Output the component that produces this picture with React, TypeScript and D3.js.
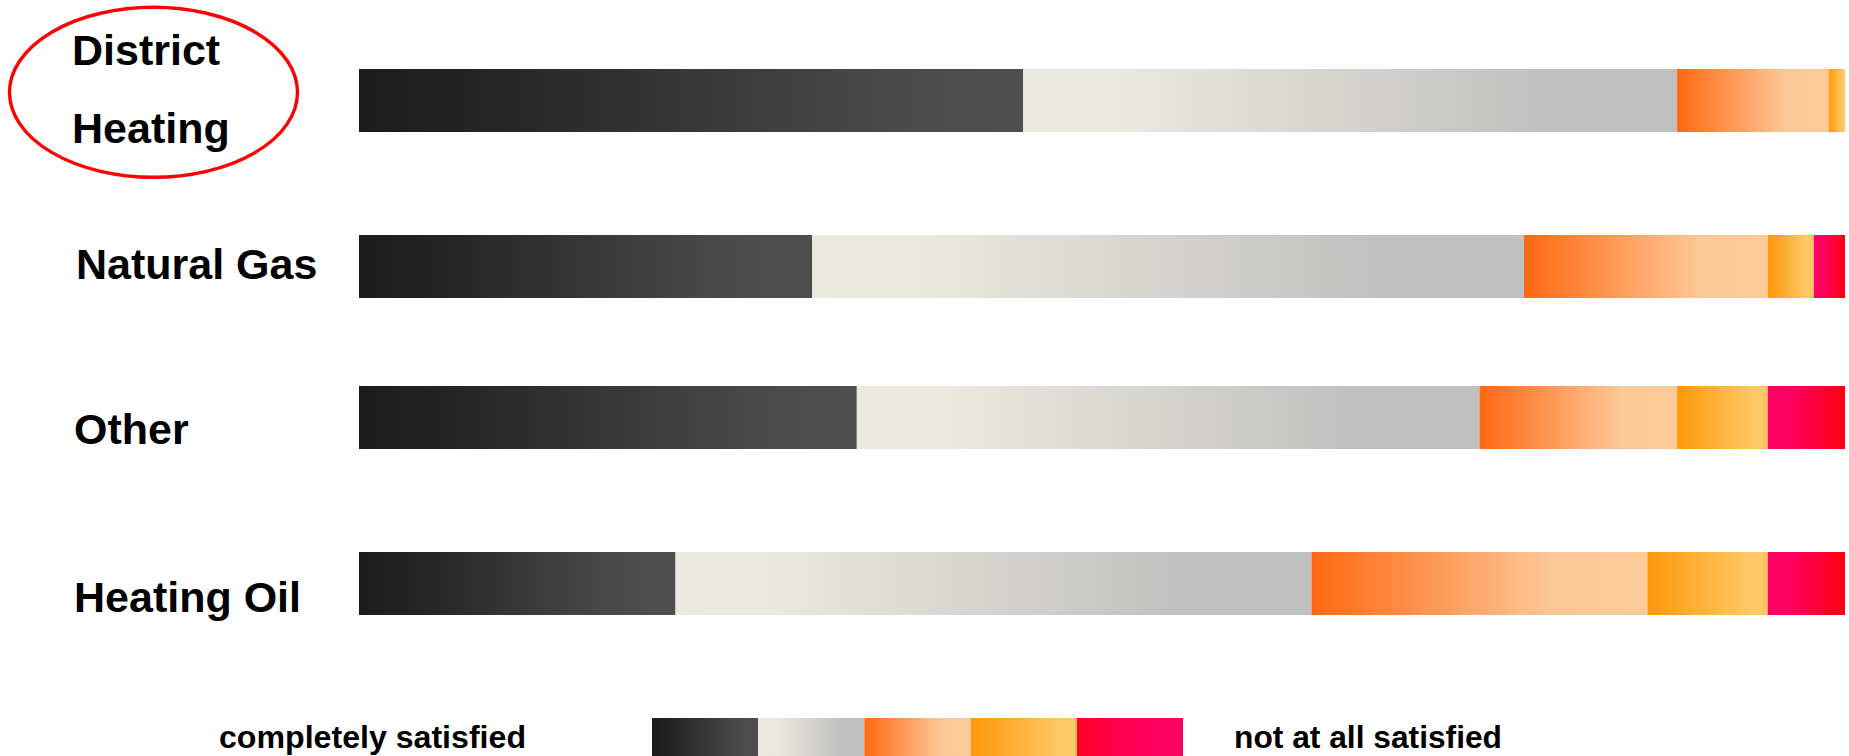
import React, { useEffect } from "react";
import * as d3 from "d3";

// ---- data ----
const categories = ["District Heating", "Natural Gas", "Other", "Heating Oil"];
const levels = ["completely satisfied", "rather satisfied", "neutral", "rather unsatisfied", "not at all satisfied"];
const completelySatisfied = [44.7, 30.5, 33.5, 21.3];
const ratherSatisfied = [44.0, 47.9, 41.9, 42.8];
const neutral = [10.2, 16.4, 13.3, 22.6];
const ratherUnsatisfied = [1.1, 3.1, 6.1, 8.1];
const notAtAllSatisfied = [0.0, 2.1, 5.2, 5.2];
const legendLeftLabel = "completely satisfied";
const legendRightLabel = "not at all satisfied";

// ---- layout / style (not data) ----
const W = 1849;
const H = 756;
const rowCenters = [100.5, 266.5, 417.5, 583.5];
const barH = 63;
const labelLines: Record<string, { x: number; baselines: number[]; lines: string[] }> = {
  "District Heating": { x: 72, baselines: [65, 143], lines: ["District", "Heating"] },
  "Natural Gas": { x: 76, baselines: [279], lines: ["Natural Gas"] },
  Other: { x: 74, baselines: [444], lines: ["Other"] },
  "Heating Oil": { x: 74, baselines: [612], lines: ["Heating Oil"] },
};

type Stop = [number, string];
const segGradients: Stop[][] = [
  [[0, "#1c1c1c"], [0.15, "#222222"], [0.85, "#4c4c4c"], [1, "#4e4e4e"]],
  [[0, "#ece9df"], [0.15, "#ebe8de"], [0.8, "#c0c0c0"], [1, "#c0c0c0"]],
  [[0, "#ff6812"], [0.72, "#fdc898"], [1, "#fdca9a"]],
  [[0, "#ff980a"], [0.85, "#fec865"], [1, "#fec866"]],
  [[0, "#ff0066"], [0.3, "#ff0060"], [1, "#ff0010"]],
];
const legendGradients: Stop[][] = [
  segGradients[0],
  segGradients[1],
  segGradients[2],
  segGradients[3],
  [[0, "#ff0022"], [0.4, "#ff0050"], [1, "#ff0066"]],
];

export default function App() {
  useEffect(() => {
    document.body.style.margin = "0";
    document.body.style.overflow = "hidden";
  }, []);

  const series = [completelySatisfied, ratherSatisfied, neutral, ratherUnsatisfied, notAtAllSatisfied];
  const table = categories.map((c, i) => {
    const row: any = { category: c };
    levels.forEach((l, k) => (row[l] = series[k][i]));
    return row;
  });
  const stacked = d3.stack<any>().keys(levels)(table);

  const x = d3.scaleLinear().domain([0, 100]).range([359, 1845]);
  const y = (c: string) => rowCenters[categories.indexOf(c)];

  const legendX = d3.scaleBand<string>().domain(levels).range([652, 1183]).padding(0);
  const legendY = 718;

  const fontBold = "'Liberation Sans', Arial, sans-serif";

  return (
    <svg width={W} height={H} style={{ display: "block", position: "absolute", left: 0, top: 0 }}>
      <defs>
        {segGradients.map((stops, k) => (
          <linearGradient key={"g" + k} id={"seg" + k} x1="0" x2="1" y1="0" y2="0">
            {stops.map(([o, c], j) => (
              <stop key={j} offset={o} stopColor={c} />
            ))}
          </linearGradient>
        ))}
        {legendGradients.map((stops, k) => (
          <linearGradient key={"l" + k} id={"leg" + k} x1="0" x2="1" y1="0" y2="0">
            {stops.map(([o, c], j) => (
              <stop key={j} offset={o} stopColor={c} />
            ))}
          </linearGradient>
        ))}
      </defs>
      <rect width={W} height={H} fill="#ffffff" />

      {stacked.map((layer, k) =>
        layer.map((d, i) => {
          const w = x(d[1]) - x(d[0]);
          if (w <= 0) return null;
          return (
            <rect
              key={k + "-" + i}
              x={x(d[0])}
              y={y(categories[i]) - barH / 2}
              width={w}
              height={barH}
              fill={`url(#seg${k})`}
            />
          );
        })
      )}

      {categories.map((c) => {
        const l = labelLines[c];
        return l.lines.map((t, j) => (
          <text
            key={c + j}
            x={l.x}
            y={l.baselines[j]}
            fontFamily={fontBold}
            fontWeight="bold"
            fontSize={43}
            fill="#000"
          >
            {t}
          </text>
        ));
      })}

      <ellipse cx={153.5} cy={92.3} rx={144} ry={85} fill="none" stroke="#ff0000" strokeWidth={3.4} />

      {levels.map((l, k) => (
        <rect
          key={"lg" + k}
          x={legendX(l)!}
          y={legendY}
          width={legendX.bandwidth()}
          height={barH}
          fill={`url(#leg${k})`}
        />
      ))}
      <text
        x={219}
        y={748}
        fontFamily={fontBold}
        fontWeight="bold"
        fontSize={32}
        textLength={307}
        lengthAdjust="spacingAndGlyphs"
        fill="#000"
      >
        {legendLeftLabel}
      </text>
      <text
        x={1234}
        y={748}
        fontFamily={fontBold}
        fontWeight="bold"
        fontSize={32}
        textLength={268}
        lengthAdjust="spacingAndGlyphs"
        fill="#000"
      >
        {legendRightLabel}
      </text>
    </svg>
  );
}
